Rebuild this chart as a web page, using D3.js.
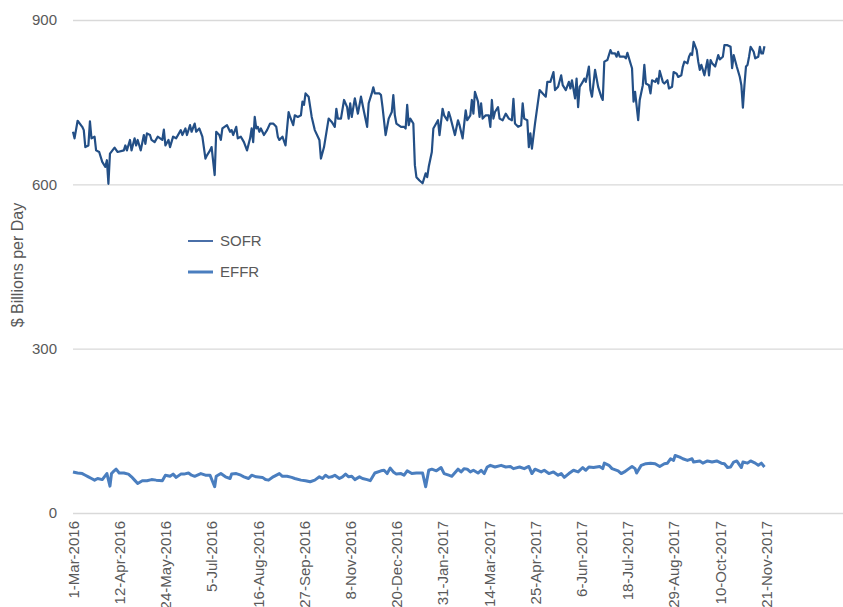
<!DOCTYPE html>
<html>
<head>
<meta charset="utf-8">
<script src="https://cdn.jsdelivr.net/npm/d3@7"></script>
<style>
  body { margin: 0; background: #fff; }
  text { font-family: "Liberation Sans", Arial, sans-serif; }
</style>
</head>
<body>
<div id="chart"></div>
<script>
// x axis: business days counted from 1-Mar-2016, a label every 30 days
const tickDays = [0, 30, 60, 90, 120, 150, 180, 210, 240, 270, 300, 330, 360, 390, 420, 450];
const tickLabels = ["1-Mar-2016", "12-Apr-2016", "24-May-2016", "5-Jul-2016", "16-Aug-2016",
  "27-Sep-2016", "8-Nov-2016", "20-Dec-2016", "31-Jan-2017", "14-Mar-2017", "25-Apr-2017",
  "6-Jun-2017", "18-Jul-2017", "29-Aug-2017", "10-Oct-2017", "21-Nov-2017"];
const yTicks = [0, 300, 600, 900];

// SOFR volume ($bn/day), day index and value
const sofrDays = [0, 1, 3, 6, 7, 8, 10, 11, 12, 14, 15, 17, 19, 21, 22, 23, 24, 27, 29, 33,
  34, 35, 37, 38, 40, 41, 42, 44, 46, 47, 48, 50, 51, 53, 55, 58, 59, 60, 62, 63,
  65, 67, 70, 71, 73, 74, 76, 77, 79, 80, 82, 84, 86, 87, 89, 90, 92, 93, 95, 96,
  97, 100, 102, 103, 104, 106, 107, 109, 111, 113, 115,
  116, 117, 118, 119, 120, 121, 122, 124, 126, 128, 130, 132, 133, 134, 136, 138, 140, 141, 143, 144,
  146, 148, 149, 150, 151, 153, 155, 157, 160, 161, 163, 166, 168, 170, 171, 172, 174, 176, 178, 179,
  180, 181, 183, 185, 187, 189, 191, 192, 194, 195, 196, 199, 200, 201, 203, 205, 207, 208, 209, 210,
  213, 215, 216, 217, 218, 219, 221,
  222, 223, 225, 227, 229, 230, 231, 233, 234, 237, 238, 240, 241, 243, 244, 245, 248, 250, 251, 253,
  255, 256, 258, 259, 260, 261, 263, 264, 265, 266, 268, 270, 271, 272, 273, 274, 276, 277, 279, 281,
  283, 285, 286, 287, 289, 291, 292, 293, 295, 296, 297, 298, 300, 303, 305, 307, 308, 310, 312, 313,
  315, 317, 318, 320, 322, 323, 324, 326, 327, 328, 329, 331, 332, 333, 335, 336,
  337, 339, 341, 343, 344, 345, 347, 349, 350, 352, 353, 354, 355, 358, 359, 360, 362, 363, 364, 365,
  367, 368, 370, 371, 372, 374, 375, 376, 378, 379, 380, 381, 383, 384, 386, 387, 389, 390, 392, 393,
  395, 396, 397, 399, 400, 401, 402, 403, 405, 406, 407, 408, 409, 410, 412, 413, 414, 415, 417, 419,
  420, 422, 423, 425, 427, 428, 429, 431, 433, 434, 435, 436, 437, 438, 439, 440, 442, 443, 445, 446,
  447, 448, 449];
const sofrValues = [696, 684, 716, 705, 699, 668, 671, 715, 684, 687, 662, 659, 641, 632, 644, 601, 656, 667, 659, 662,
  671, 662, 681, 662, 684, 671, 681, 662, 690, 674, 693, 690, 681, 677, 687, 681, 700, 671, 681, 668,
  687, 684, 699, 690, 702, 690, 708, 696, 711, 696, 702, 687, 647, 653, 662, 668, 617, 696, 690, 681,
  702, 708, 696, 699, 690, 705, 684, 687, 677, 662, 684,
  702, 677, 723, 702, 705, 696, 702, 690, 699, 711, 711, 705, 687, 681, 687, 671, 732, 723, 708, 726,
  723, 726, 751, 745, 766, 760, 723, 699, 681, 647, 668, 720, 714, 705, 738, 720, 720, 754, 741, 720,
  748, 723, 757, 729, 760, 732, 705, 748, 766, 777, 766, 766, 763, 741, 690, 720, 732, 763, 726, 711,
  705, 705, 702, 745, 708, 720, 711,
  635, 613, 607, 602, 620, 613, 632, 659, 702, 717, 690, 738, 726, 717, 732, 723, 690, 717, 708, 684,
  735, 717, 726, 754, 729, 769, 751, 723, 748, 720, 726, 726, 705, 754, 720, 732, 741, 720, 717, 729,
  720, 717, 756, 711, 705, 708, 748, 720, 717, 668, 693, 665, 711, 772, 766, 760, 787, 787, 805, 772,
  778, 799, 781, 772, 787, 775, 790, 757, 793, 741, 778, 787, 793, 787, 815, 772,
  760, 809, 778, 760, 754, 824, 827, 845, 839, 839, 833, 842, 833, 833, 830, 840, 821, 812, 751, 769,
  717, 754, 781, 818, 784, 781, 766, 790, 787, 793, 784, 807, 787, 784, 790, 775, 778, 805, 802, 796,
  799, 815, 824, 821, 833, 839, 836, 860, 845, 824, 809, 818, 809, 799, 827, 799, 827, 821, 815, 836,
  828, 833, 854, 854, 851, 812, 836, 815, 796, 781, 740, 781, 815, 818, 833, 851, 842, 830, 833, 851,
  839, 839, 852];

// EFFR volume ($bn/day)
const effrDays = [0, 3, 6, 8, 10, 12, 14, 16, 19, 22, 24, 25, 26, 28, 30, 33, 36, 38, 40, 42,
  45, 48, 51, 54, 58, 60, 63, 65, 67, 70, 72, 75, 77, 79, 83, 86, 89, 92, 93, 96,
  99, 102, 103, 106, 109, 111, 114, 116, 119, 123, 125, 127, 130, 134, 136, 139, 142, 144, 148, 151,
  154, 157, 160, 162, 164, 166, 168, 170, 173, 175, 177, 179, 181, 183, 186, 188, 191, 193, 196, 200,
  202, 204, 206, 208, 210, 213, 215, 217, 220, 223, 227, 229, 231, 233, 236, 239, 241, 244, 246, 250,
  252, 254, 256, 258, 260, 263, 265, 267, 269, 271, 274, 278, 281, 284, 286, 290, 293, 296, 298, 300,
  304, 306, 309, 312, 315, 317, 319, 322, 325, 328, 331, 333, 335, 338, 342, 344, 345, 348, 350, 354,
  356, 358, 361, 363, 365, 366, 369, 372, 375, 378, 381, 384, 386, 388, 390, 391, 394, 396, 399, 402,
  403, 407, 409, 412, 415, 418, 421, 423, 425, 427, 429, 431, 434, 435, 438, 440, 443, 445, 447, 449];
const effrValues = [75, 73, 72, 69, 66, 63, 60, 63, 61, 72, 49, 72, 75, 80, 73, 73, 71, 66, 60, 54,
  59, 59, 61, 60, 59, 69, 67, 71, 65, 71, 71, 73, 69, 67, 72, 69, 69, 48, 67, 72,
  66, 63, 71, 72, 69, 66, 63, 69, 66, 65, 61, 60, 66, 72, 67, 67, 65, 63, 60, 59,
  57, 60, 66, 63, 69, 65, 66, 69, 63, 66, 71, 66, 67, 61, 66, 63, 61, 59, 73, 77,
  78, 72, 82, 75, 71, 72, 69, 77, 72, 73, 73, 48, 78, 80, 77, 83, 72, 69, 67, 80,
  75, 81, 80, 75, 78, 73, 78, 72, 84, 87, 84, 87, 84, 85, 81, 84, 81, 85, 72, 80,
  75, 78, 72, 75, 69, 72, 65, 72, 78, 75, 83, 78, 84, 83, 85, 81, 91, 87, 81, 77,
  72, 75, 81, 85, 81, 73, 87, 90, 91, 90, 85, 90, 91, 99, 96, 105, 102, 99, 96, 99,
  93, 95, 91, 95, 93, 95, 91, 90, 83, 84, 93, 95, 83, 93, 91, 95, 91, 87, 91, 84];

const seriesNames = ["SOFR", "EFFR"];
const seriesColors = ["#234f86", "#4a7ebf"];
const seriesWidths = [2.2, 3];

const W = 843, H = 607;
const margin = { left: 73, right: 843, top: 20, bottom: 513 };

const svg = d3.select("#chart").append("svg")
  .attr("width", W)
  .attr("height", H);

const x = d3.scaleLinear().domain([0, 500]).range([margin.left, margin.right]);
const y = d3.scaleLinear().domain([0, 900]).range([margin.bottom, margin.top]);

// gridlines + y labels
const yAxis = svg.append("g")
  .attr("transform", `translate(${margin.left},0)`)
  .call(d3.axisLeft(y).tickValues(yTicks).tickSize(-(margin.right - margin.left)).tickPadding(16));
yAxis.select(".domain").remove();
yAxis.selectAll("line").attr("stroke", "#d9d9d9").attr("stroke-width", 1.3);
yAxis.selectAll("text")
  .attr("fill", "#595959")
  .style("font-size", "15px");

// x labels, rotated
const xAxis = svg.append("g")
  .attr("transform", `translate(0,${margin.bottom})`)
  .call(d3.axisBottom(x).tickValues(tickDays).tickFormat((d, i) => tickLabels[i]).tickSize(0));
xAxis.select(".domain").remove();
xAxis.selectAll("text")
  .attr("fill", "#595959")
  .style("font-size", "15px")
  .attr("text-anchor", "end")
  .attr("transform", "rotate(-90)")
  .attr("x", -8)
  .attr("y", 0)
  .attr("dy", "0.35em");

// y axis title
svg.append("text")
  .attr("transform", "rotate(-90)")
  .attr("x", -265)
  .attr("y", 23)
  .attr("text-anchor", "middle")
  .attr("fill", "#595959")
  .style("font-size", "16px")
  .text("$ Billions per Day");

// lines
const line = d3.line()
  .x(d => x(d[0]))
  .y(d => y(d[1]));

const sofr = sofrDays.map((d, i) => [d, sofrValues[i]]);
const effr = effrDays.map((d, i) => [d, effrValues[i]]);

[sofr, effr].forEach((data, i) => {
  svg.append("path")
    .datum(data)
    .attr("fill", "none")
    .attr("stroke", seriesColors[i])
    .attr("stroke-width", seriesWidths[i])
    .attr("stroke-linejoin", "round")
    .attr("d", line);
});

// legend
const legend = svg.selectAll(".legend")
  .data(seriesNames)
  .enter()
  .append("g")
  .attr("transform", (d, i) => `translate(188,${241 + i * 31})`);

legend.append("line")
  .attr("x1", 0)
  .attr("x2", 25)
  .attr("stroke", (d, i) => i === 0 ? "#4a6fa8" : seriesColors[i])
  .attr("stroke-width", (d, i) => i === 0 ? 2 : 3);

legend.append("text")
  .attr("x", 32)
  .attr("dy", "0.36em")
  .attr("fill", "#595959")
  .style("font-size", "15px")
  .text(d => d);
</script>
</body>
</html>
